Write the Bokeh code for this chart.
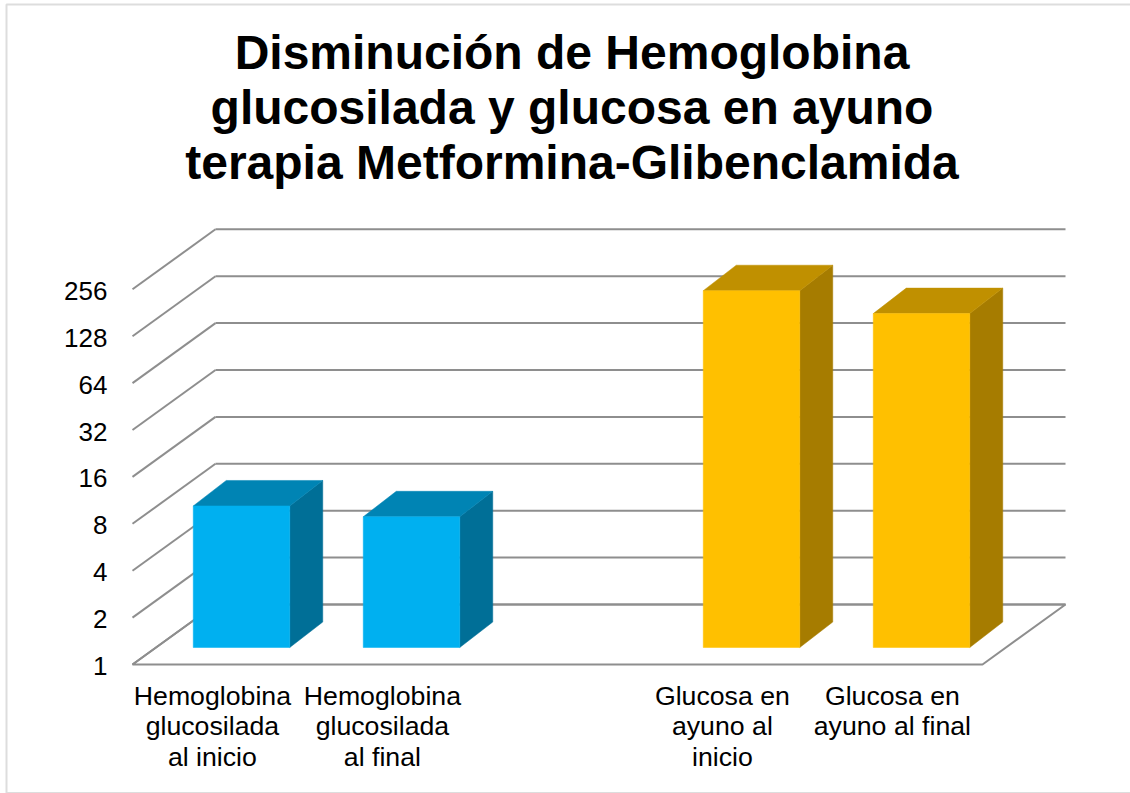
from bokeh.plotting import figure
from bokeh.models import Range1d, FixedTicker, Label, PolyAnnotation
from bokeh.embed import file_html
from bokeh.resources import INLINE

# data
title_text = "Disminución de Hemoglobina\nglucosilada y glucosa en ayuno\nterapia Metformina-Glibenclamida"
categories = ["Hemoglobina\nglucosilada\nal inicio", "Hemoglobina\nglucosilada\nal final",
              "Glucosa en\nayuno al\ninicio", "Glucosa en\nayuno al final"]
slots = [0, 1, 3, 4]
values = [8.1, 6.9, 195, 139]
y_ticks = [1, 2, 4, 8, 16, 32, 64, 128, 256]

# style: bar face colours
front = ["#00B0F0", "#00B0F0", "#FFC000", "#FFC000"]
top_c = ["#0084B4", "#0084B4", "#C09000", "#C09000"]
side_c = ["#006F97", "#006F97", "#A67C00", "#A67C00"]
GRID = "#8E8E8E"
FONT = "Liberation Sans"
W, H = 1130, 793
ORIGIN_X, ORIGIN_Y = 132, 664   # where the axes meet, in pixels

# 3-D projection scale: pixels per category and per doubling
PX_X, PX_Y = 170.0, 46.9
def sx(px): return px / PX_X
def sy(px): return 2 ** (px / PX_Y)

n_slots = 5
back_dx, back_dy = sx(83), sy(60)
end_x = n_slots + back_dx

p = figure(width=W, height=H, output_backend="svg", toolbar_location=None,
           y_axis_type="log",
           x_range=Range1d(-sx(ORIGIN_X), sx(W - ORIGIN_X)),
           y_range=Range1d(1 / sy(H - ORIGIN_Y), sy(ORIGIN_Y)),
           min_border=0,
           outline_line_color=None, background_fill_color="white", border_fill_color="white",
           styles={"position": "absolute", "left": "0px", "top": "0px"})
p.grid.visible = False

# walls
p.multi_line([[back_dx, end_x] for _ in y_ticks], [[v * back_dy, v * back_dy] for v in y_ticks],
             line_color=GRID, line_width=2)
p.multi_line([[0, back_dx] for _ in y_ticks], [[v, v * back_dy] for v in y_ticks],
             line_color=GRID, line_width=2)
# floor
p.patch([0, back_dx, end_x, n_slots], [1, back_dy, back_dy, 1],
        fill_alpha=0, line_color=GRID, line_width=2)

# bars
bar_w = sx(96.5)
off_x, off_y = sx(24), sy(17)
dep_x, dep_y = sx(33), sy(25.5)
for s, v, f, t, c in zip(slots, values, front, top_c, side_c):
    l = s + 0.5 + off_x - bar_w / 2
    r = l + bar_w
    b = off_y
    h = v * off_y
    p.patch([r, r + dep_x, r + dep_x, r], [b, b * dep_y, h * dep_y, h], fill_color=c, line_color=c, line_width=0.5)
    p.patch([l, l + dep_x, r + dep_x, r], [h, h * dep_y, h * dep_y, h], fill_color=t, line_color=t, line_width=0.5)
    p.quad(left=[l], right=[r], bottom=[b], top=[h], fill_color=f, line_color=f, line_width=0.5)

# axes
ya = p.yaxis[0]
y_label_pos = [v * sy(-1.5) for v in y_ticks]
ya.ticker = FixedTicker(ticks=y_label_pos)
ya.major_label_overrides = {k: str(v) for k, v in zip(y_label_pos, y_ticks)}
ya.axis_line_color = None
ya.major_tick_line_color = None
ya.minor_tick_line_color = None
ya.major_tick_in = 0
ya.major_tick_out = 0
ya.minor_tick_in = 0
ya.minor_tick_out = 0
ya.major_label_text_font = FONT
ya.major_label_text_font_size = "26px"
ya.major_label_text_color = "#000000"
ya.major_label_standoff = -107

xa = p.xaxis[0]
label_pos = [s + 0.47 for s in slots]
xa.ticker = FixedTicker(ticks=label_pos)
xa.major_label_overrides = dict(zip(label_pos, categories))
xa.axis_line_color = None
xa.major_tick_line_color = None
xa.minor_tick_line_color = None
xa.major_tick_in = 0
xa.major_tick_out = 0
xa.major_label_text_font = FONT
xa.major_label_text_font_size = "26.7px"
xa.major_label_text_line_height = 1.03
xa.major_label_text_color = "#000000"
xa.major_label_standoff = -113

# title
p.add_layout(Label(x=571.5, y=H - 25, x_units="screen", y_units="screen", text=title_text,
                   text_font=FONT, text_font_style="bold", text_font_size="48px",
                   text_line_height=1.04,
                   text_align="center", text_baseline="top", text_color="#000000"))

# chart-area border
p.add_layout(PolyAnnotation(xs=[W + 10, 6, 6, W + 10], ys=[H - 4, H - 4, 0.5, 0.5],
                            xs_units="screen", ys_units="screen",
                            fill_alpha=0, line_color=GRID, line_width=2))

open("out.html", "w").write(file_html(p, INLINE))
